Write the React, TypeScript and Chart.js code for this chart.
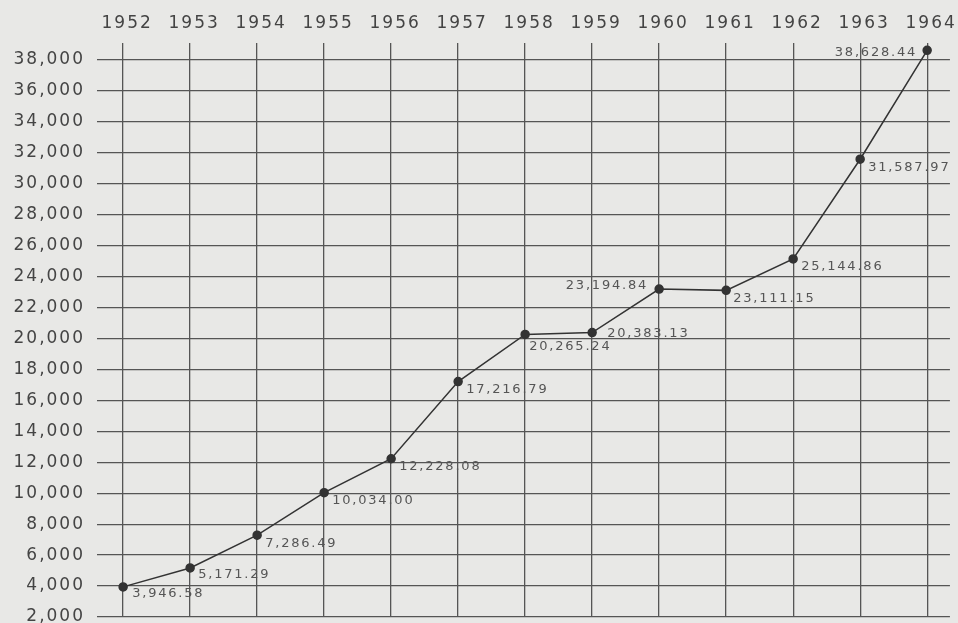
import React, { useEffect, useRef } from "react";
import { Chart, registerables } from "chart.js";

Chart.register(...registerables);

const years = [1952, 1953, 1954, 1955, 1956, 1957, 1958, 1959, 1960, 1961, 1962, 1963, 1964];
const values = [3946.58, 5171.29, 7286.49, 10034.0, 12228.08, 17216.79, 20265.24, 20383.13, 23194.84, 23111.15, 25144.86, 31587.97, 38628.44];
const yTicks = [2000, 4000, 6000, 8000, 10000, 12000, 14000, 16000, 18000, 20000, 22000, 24000, 26000, 28000, 30000, 32000, 34000, 36000, 38000];
// label placement: [dx, dy, align]
const labelPlacement: [number, number, CanvasTextAlign][] = [
  [9, 7, "left"], [8, 7, "left"], [8, 8, "left"], [8, 8, "left"], [8, 8, "left"],
  [8, 8, "left"], [4, 12, "left"], [15, 1, "left"], [-11, -3, "right"],
  [7, 8, "left"], [8, 8, "left"], [8, 8, "left"], [-10, 2, "right"],
];

const fmt = (v: number) =>
  v.toLocaleString("en-US", { minimumFractionDigits: 2, maximumFractionDigits: 2 });

const FONT = "'DejaVu Sans', sans-serif";

const bgPlugin = {
  id: "bg",
  beforeDraw(chart: any) {
    const ctx = chart.ctx;
    ctx.save();
    ctx.fillStyle = "#e8e8e6";
    ctx.fillRect(0, 0, chart.width, chart.height);
    ctx.restore();
    (ctx as any).letterSpacing = "2px";
  },
};

const labelPlugin = {
  id: "ptlabels",
  afterDatasetsDraw(chart: any) {
    const ctx = chart.ctx;
    const meta = chart.getDatasetMeta(0);
    ctx.save();
    (ctx as any).letterSpacing = "1.8px";
    ctx.font = `13px ${FONT}`;
    ctx.fillStyle = "#555";
    ctx.textBaseline = "middle";
    meta.data.forEach((pt: any, i: number) => {
      const [dx, dy, align] = labelPlacement[i];
      ctx.textAlign = align;
      ctx.fillText(fmt(values[i]), pt.x + dx, pt.y + dy);
    });
    ctx.restore();
  },
};

export default function App() {
  const ref = useRef<HTMLCanvasElement>(null);
  useEffect(() => {
    const chart = new Chart(ref.current!, {
      type: "line",
      data: {
        datasets: [
          {
            data: years.map((y, i) => ({ x: y, y: values[i] })),
            borderColor: "#333",
            borderWidth: 1.5,
            pointRadius: 4,
            pointBackgroundColor: "#333",
            pointBorderColor: "#333",
            tension: 0,
          },
        ],
      },
      options: {
        animation: false,
        responsive: false,
        maintainAspectRatio: false,
        layout: { padding: { left: 0, right: 8, top: 0, bottom: 43 } },
        plugins: { legend: { display: false }, tooltip: { enabled: false } },
        scales: {
          x: {
            type: "linear",
            position: "top",
            min: 1951.61,
            max: 1964.34,
            afterBuildTicks: (s: any) => {
              s.ticks = years.map((v) => ({ value: v }));
            },
            afterFit: (s: any) => {
              s.height = 43;
            },
            border: { display: false },
            grid: { color: "#555", lineWidth: 1.3, drawTicks: false },
            ticks: {
              padding: 9,
              labelOffset: 4,
              color: "#444",
              font: { family: FONT, size: 17 },
              callback: (v: any) => String(v),
              maxRotation: 0,
              autoSkip: false,
            },
          },
          y: {
            min: 2000,
            max: 39100,
            afterBuildTicks: (s: any) => {
              s.ticks = yTicks.map((v) => ({ value: v }));
            },
            afterFit: (s: any) => {
              s.width = 97;
            },
            border: { display: false },
            grid: { color: "#555", lineWidth: 1.3, drawTicks: false },
            ticks: {
              padding: 12,
              color: "#444",
              font: { family: FONT, size: 17 },
              callback: (v: any) => Number(v).toLocaleString("en-US"),
              autoSkip: false,
            },
          },
        },
      },
      plugins: [bgPlugin, labelPlugin],
    } as any);
    return () => chart.destroy();
  }, []);
  return (
    <div style={{ position: "fixed", left: 0, top: 0, width: 958, height: 660, background: "#e8e8e6" }}>
      <canvas ref={ref} width={958} height={660} style={{ display: "block" }} />
    </div>
  );
}
